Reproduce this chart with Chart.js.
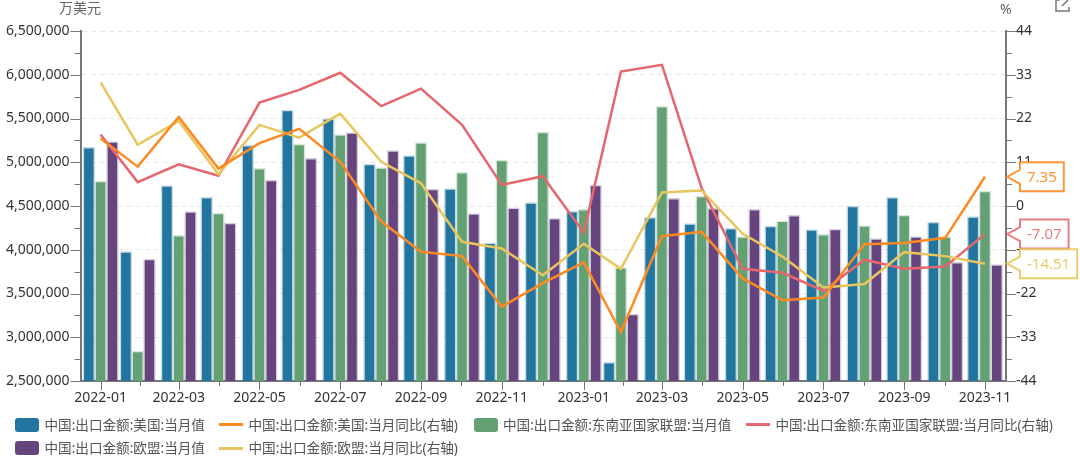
<!DOCTYPE html>
<html>
<head>
<meta charset="utf-8">
<title>中国出口金额</title>
<script src="https://cdn.jsdelivr.net/npm/chart.js@4/dist/chart.umd.min.js"></script>
<style>
    body { margin: 0; background: #fff; font-family: "Noto Sans", "Noto Sans CJK SC", sans-serif; }
    #wrap { position: relative; width: 1080px; height: 459px; overflow: hidden; }
    .legend-item { position: absolute; font-size: 13.6px; line-height: 18px; color: #555; white-space: nowrap; }
    .legend-bar { position: absolute; width: 24px; height: 14px; border-radius: 3px; }
    .legend-line { position: absolute; width: 24px; height: 3px; }
</style>
</head>
<body>
<div id="wrap">
    <canvas id="exportChart" width="1080" height="459"></canvas>
</div>
<script>
// Months on the time axis
const months = ['2022-01','2022-02','2022-03','2022-04','2022-05','2022-06','2022-07','2022-08','2022-09','2022-10','2022-11','2022-12',
    '2023-01','2023-02','2023-03','2023-04','2023-05','2023-06','2023-07','2023-08','2023-09','2023-10','2023-11'];

// Monthly values, 万美元
const usValue = [5170000,3978000,4732000,4600000,5193000,5597000,5500000,4980000,5075000,4700000,4080000,4538000,
    4440000,2714000,4370000,4300000,4245000,4270000,4230000,4500000,4600000,4317000,4380000];
const aseanValue = [4786000,2843000,4165000,4420000,4930000,5209000,5315000,4938000,5224000,4885000,5026000,5346000,
    4462000,3795000,5640000,4614000,4150000,4330000,4177000,4275000,4397000,4150000,4670000];
const euValue = [5235000,3894000,4435000,4306000,4797000,5045000,5338000,5132000,4694000,4412000,4480000,4360000,
    4740000,3266000,4588000,4474000,4462000,4394000,4237000,4127000,4150000,3857000,3830000];

// Year on year, %
const usYoy = [17.0,9.9,22.4,9.4,15.8,19.4,11.1,-3.9,-11.5,-12.6,-25.3,-19.4,-14.2,-31.7,-7.6,-6.5,-18.2,-23.7,-23.0,-9.6,-9.3,-8.0,7.35];
const aseanYoy = [18.0,6.0,10.5,7.6,26.0,29.2,33.5,25.1,29.5,20.4,5.3,7.5,-6.7,33.8,35.5,4.5,-15.8,-16.8,-21.3,-13.5,-15.8,-15.2,-7.07];
const euYoy = [31.1,15.4,21.4,8.0,20.4,17.2,23.2,11.1,5.7,-9.0,-10.7,-17.4,-9.5,-15.8,3.4,3.9,-7.0,-12.7,-20.5,-19.6,-11.6,-12.6,-14.51];

const BLUE = '#21759f', GREEN = '#63a175', PURPLE = '#66457f';
const ORANGE = '#ff8921', RED = '#e5666b', YELLOW = '#e8c65d';
const AXIS_COLOR = '#777777';
const FONT = '"Noto Sans", "Noto Sans CJK SC", sans-serif';

// Real time axis: each value is dated on the last day of its month
const dayOffsets = months.map(m => {
    const [year, month] = m.split('-').map(Number);
    return (Date.UTC(year, month, 0) - Date.UTC(2022, 0, 1)) / 86400000;
});
const toPoints = values => values.map((v, i) => ({ x: dayOffsets[i], y: v }));

// Labelled ticks sit on their month, the ones between are halfway
const tickDays = dayOffsets.map((d, i) => i % 2 === 0 ? d : (dayOffsets[i - 1] + dayOffsets[i + 1]) / 2);

function barSet(label, values, color) {
    return {
        type: 'bar', label: label, data: toPoints(values), yAxisID: 'y', order: 10,
        backgroundColor: color, borderColor: color + '40', borderWidth: 1.5, barThickness: 11.8
    };
}

function lineSet(label, values, color, order) {
    return {
        type: 'line', label: label, data: toPoints(values), yAxisID: 'y2', order: order,
        borderColor: color, backgroundColor: color, borderWidth: 2.5, pointRadius: 0, tension: 0
    };
}

const datasets = [
    barSet('中国:出口金额:美国:当月值', usValue, BLUE),
    lineSet('中国:出口金额:美国:当月同比(右轴)', usYoy, ORANGE, 1),
    barSet('中国:出口金额:东南亚国家联盟:当月值', aseanValue, GREEN),
    lineSet('中国:出口金额:东南亚国家联盟:当月同比(右轴)', aseanYoy, RED, 3),
    barSet('中国:出口金额:欧盟:当月值', euValue, PURPLE),
    lineSet('中国:出口金额:欧盟:当月同比(右轴)', euYoy, YELLOW, 2)
];

// Long and short tick marks, the library only has one length
const tickMarks = {
    id: 'tickMarks',
    afterDraw(chart) {
        const { ctx, scales } = chart;
        ctx.save();
        ctx.strokeStyle = AXIS_COLOR;
        ctx.lineWidth = 1;
        const left = scales.y.left + scales.y.width;
        for (let v = 2500000; v <= 6500000; v += 250000) {
            const py = Math.round(scales.y.getPixelForValue(v)) + 0.5;
            const len = v % 500000 === 0 ? 10 : 6;
            ctx.beginPath(); ctx.moveTo(left - len, py); ctx.lineTo(left, py); ctx.stroke();
        }
        for (let v = -44; v <= 44; v += 5.5) {
            const py = Math.round(scales.y2.getPixelForValue(v)) + 0.5;
            const len = v % 11 === 0 ? 10 : 6;
            ctx.beginPath(); ctx.moveTo(scales.y2.left, py); ctx.lineTo(scales.y2.left + len, py); ctx.stroke();
        }
        tickDays.forEach((d, i) => {
            const px = Math.round(scales.x.getPixelForValue(d)) + 0.5;
            const len = i % 2 === 0 ? 9 : 5;
            ctx.beginPath(); ctx.moveTo(px, scales.x.top); ctx.lineTo(px, scales.x.top + len); ctx.stroke();
        });
        ctx.restore();
    }
};

// Value tags that point at the right axis
function drawTag(chart, value, color, alpha) {
    const { ctx, scales } = chart;
    const py = scales.y2.getPixelForValue(value);
    const tip = scales.y2.left + 1;
    const x0 = tip + 13;
    const h = 29;
    ctx.font = '15px ' + FONT;
    const w = ctx.measureText(String(value)).width + 14;
    ctx.beginPath();
    ctx.moveTo(tip, py);
    ctx.lineTo(x0, py - 7);
    ctx.lineTo(x0, py - h / 2);
    ctx.lineTo(x0 + w, py - h / 2);
    ctx.lineTo(x0 + w, py + h / 2);
    ctx.lineTo(x0, py + h / 2);
    ctx.lineTo(x0, py + 7);
    ctx.closePath();
    ctx.fillStyle = '#fff';
    ctx.fill();
    ctx.globalAlpha = alpha;
    ctx.strokeStyle = color;
    ctx.lineWidth = 2;
    ctx.stroke();
    ctx.fillStyle = color;
    ctx.textAlign = 'left';
    ctx.textBaseline = 'middle';
    ctx.fillText(String(value), x0 + 7, py + 1);
    ctx.globalAlpha = 1;
}

const overlay = {
    id: 'overlay',
    afterDraw(chart) {
        const { ctx } = chart;
        ctx.save();
        drawTag(chart, aseanYoy[aseanYoy.length - 1], RED, 0.85);
        drawTag(chart, euYoy[euYoy.length - 1], YELLOW, 0.9);
        drawTag(chart, usYoy[usYoy.length - 1], ORANGE, 0.9);

        // Units above the two axes
        ctx.font = '14px ' + FONT;
        ctx.fillStyle = '#666';
        ctx.textBaseline = 'middle';
        ctx.textAlign = 'left';
        ctx.fillText('万美元', 59, 9);
        ctx.fillText('%', 1000, 10);

        // Export icon, cut off by the top edge
        ctx.strokeStyle = '#777';
        ctx.lineWidth = 1.5;
        ctx.beginPath();
        ctx.moveTo(1060, 0); ctx.lineTo(1056, 0); ctx.lineTo(1056, 11); ctx.lineTo(1069, 11); ctx.lineTo(1069, 7);
        ctx.moveTo(1062, 6); ctx.lineTo(1068, 0);
        ctx.stroke();
        ctx.restore();
    }
};

new Chart(document.getElementById('exportChart'), {
    data: { datasets: datasets },
    plugins: [tickMarks, overlay],
    options: {
        responsive: false,
        animation: false,
        layout: { padding: { top: 31, left: 0, right: 0, bottom: 0 } },
        plugins: { legend: { display: false }, tooltip: { enabled: false } },
        scales: {
            x: {
                type: 'linear',
                offset: false,
                min: 14.8,
                max: 713.9,
                afterBuildTicks(scale) { scale.ticks = tickDays.map(d => ({ value: d })); },
                afterFit(scale) { scale.height = 78; },
                grid: { display: false, drawTicks: false },
                border: { color: AXIS_COLOR, width: 2 },
                ticks: {
                    autoSkip: false, maxRotation: 0, padding: 9, color: '#333',
                    font: { family: FONT, size: 14 },
                    callback: (value, index) => index % 2 === 0 ? months[index] : ''
                }
            },
            y: {
                position: 'left',
                min: 2500000,
                max: 6500000,
                afterFit(scale) { scale.width = 80.5; },
                grid: { color: '#e8e8e8', drawTicks: false },
                border: { color: AXIS_COLOR, width: 2, dash: [5, 4] },
                ticks: {
                    stepSize: 500000, padding: 11, color: '#333',
                    font: { family: FONT, size: 14 },
                    callback: value => value.toLocaleString('en-US')
                }
            },
            y2: {
                position: 'right',
                min: -44,
                max: 44,
                afterFit(scale) { scale.width = 74; },
                grid: { display: false, drawTicks: false },
                border: { color: AXIS_COLOR, width: 2 },
                ticks: { stepSize: 11, padding: 10, color: '#333', font: { family: FONT, size: 14 } }
            }
        }
    }
});

// Legend laid out in the same two rows as the original
const legendSlots = [[15, 424.5], [219, 424.5], [473.5, 424.5], [746, 424.5], [15, 448], [219, 448]];
const wrap = document.getElementById('wrap');
datasets.forEach((ds, i) => {
    const [x, y] = legendSlots[i];
    const mark = document.createElement('div');
    const isBar = ds.type === 'bar';
    mark.className = isBar ? 'legend-bar' : 'legend-line';
    mark.style.left = x + 'px';
    mark.style.top = (isBar ? y - 7 : y - 1.5) + 'px';
    mark.style.background = ds.backgroundColor;
    wrap.appendChild(mark);

    const text = document.createElement('div');
    text.className = 'legend-item';
    text.textContent = ds.label;
    text.style.left = (x + 29.5) + 'px';
    text.style.top = (y - 9) + 'px';
    wrap.appendChild(text);
});
</script>
</body>
</html>
